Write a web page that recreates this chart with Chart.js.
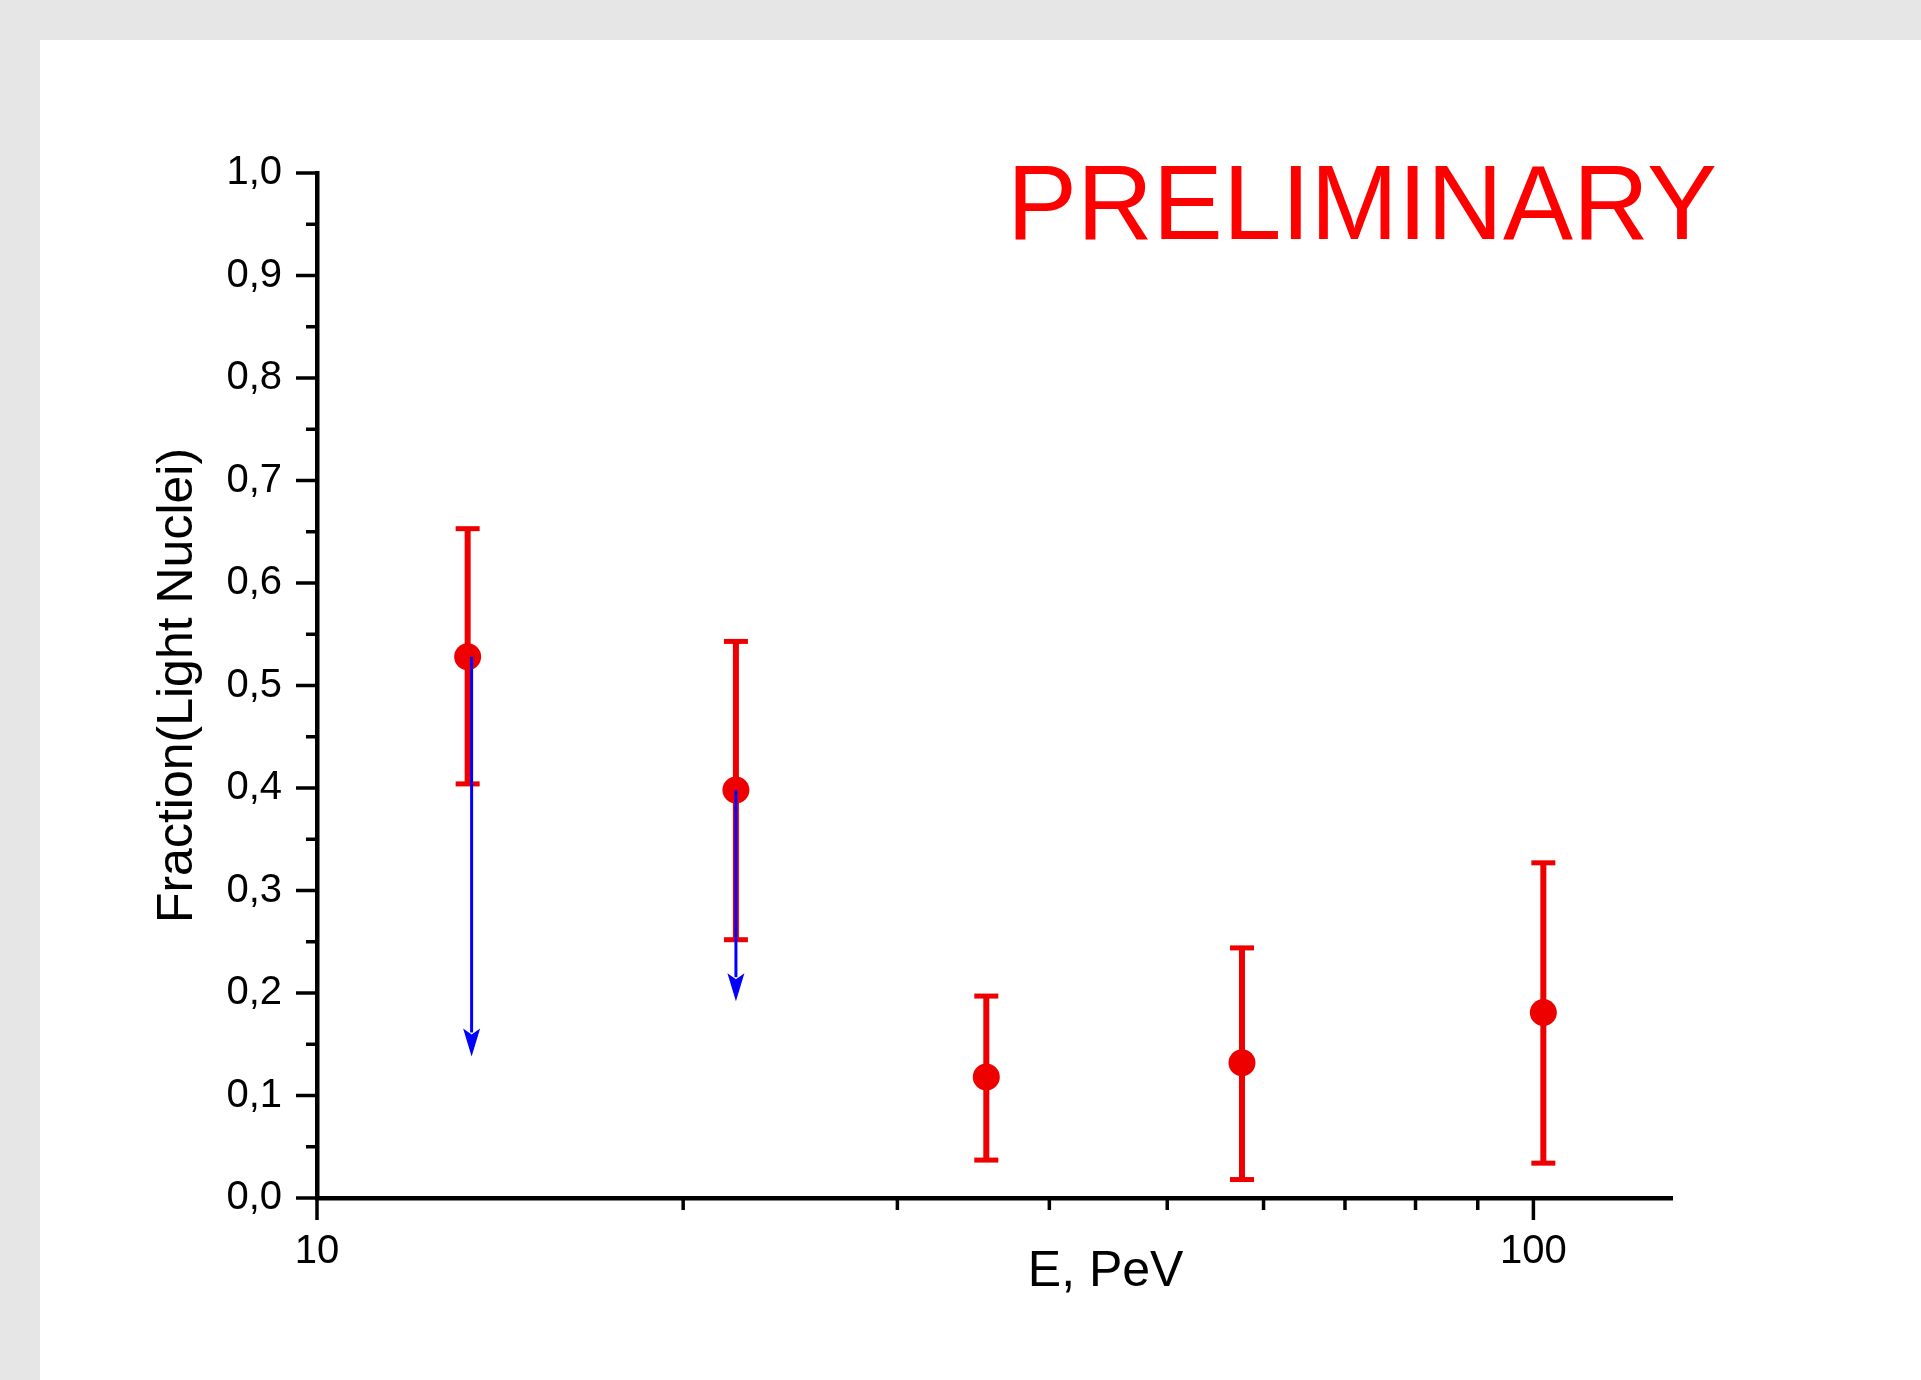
<!DOCTYPE html>
<html>
<head>
<meta charset="utf-8">
<script src="https://cdn.jsdelivr.net/npm/chart.js@4"></script>
<style>
  html, body { margin: 0; padding: 0; background: #e6e6e6; }
  #panel { position: absolute; left: 40px; top: 40px; width: 1881px; height: 1340px; background: #fff; }
</style>
</head>
<body>
<div id="panel"><canvas id="fractionChart" width="1881" height="1340"></canvas></div>
<script>
// ── Fraction of light nuclei vs energy (log x) ────────────────────────────────
// Red: measured points with error bars. Blue: upper-limit arrows.

const energy   = [13.3, 22.1, 35.5, 57.6, 101.9];        // E, PeV
const fraction = [0.528, 0.398, 0.118, 0.132, 0.181];
const errLow   = [0.404, 0.252, 0.037, 0.018, 0.034];
const errHigh  = [0.653, 0.543, 0.197, 0.244, 0.327];

// upper-limit arrows
const limitEnergy = [13.4, 22.1];
const limitFrom   = [0.528, 0.398];
const limitTo     = [0.138, 0.192];

const xMajorTicks = [10, 100];
const xMinorTicks = [20, 30, 40, 50, 60, 70, 80, 90];
const yTicks      = [0, 0.1, 0.2, 0.3, 0.4, 0.5, 0.6, 0.7, 0.8, 0.9, 1.0];
const yTickLabels = ['0,0', '0,1', '0,2', '0,3', '0,4', '0,5', '0,6', '0,7', '0,8', '0,9', '1,0'];

const RED  = '#ee0000';
const BLUE = '#0000ff';
const FONT = '"Liberation Sans", Arial, Helvetica, sans-serif';

Chart.defaults.font.family = FONT;
Chart.defaults.color = '#000';

// error bars, drawn under the dots
const errorBars = {
  id: 'errorBars',
  beforeDatasetsDraw(chart) {
    const { ctx, scales: { x, y } } = chart;
    ctx.save();
    ctx.strokeStyle = RED;
    energy.forEach((e, i) => {
      const px = x.getPixelForValue(e);
      const lo = y.getPixelForValue(errLow[i]);
      const hi = y.getPixelForValue(errHigh[i]);
      ctx.lineWidth = 6;
      ctx.beginPath(); ctx.moveTo(px, lo); ctx.lineTo(px, hi); ctx.stroke();
      ctx.lineWidth = 5;
      [lo, hi].forEach(py => {
        ctx.beginPath(); ctx.moveTo(px - 12, py); ctx.lineTo(px + 12, py); ctx.stroke();
      });
    });
    ctx.restore();
  },
};

// blue arrows on top of the dots
const limitArrows = {
  id: 'limitArrows',
  afterDatasetsDraw(chart) {
    const { ctx, scales: { x, y } } = chart;
    ctx.save();
    ctx.strokeStyle = BLUE;
    ctx.fillStyle = BLUE;
    ctx.lineWidth = 3;
    limitEnergy.forEach((e, i) => {
      const px  = x.getPixelForValue(e);
      const y0  = y.getPixelForValue(limitFrom[i]);
      const tip = y.getPixelForValue(limitTo[i]);
      const head = 28;
      ctx.beginPath(); ctx.moveTo(px, y0); ctx.lineTo(px, tip - head + 4); ctx.stroke();
      ctx.beginPath();
      ctx.moveTo(px, tip);
      ctx.lineTo(px - 8.5, tip - head);
      ctx.lineTo(px, tip - head + 6);
      ctx.lineTo(px + 8.5, tip - head);
      ctx.closePath();
      ctx.fill();
    });
    ctx.restore();
  },
};

// outward major / minor tick marks on both axes
const axisTicks = {
  id: 'axisTicks',
  afterDraw(chart) {
    const { ctx, chartArea: a, scales: { x, y } } = chart;
    ctx.save();
    ctx.strokeStyle = '#000';
    ctx.lineWidth = 3.5;
    const tick = (x1, y1, x2, y2) => { ctx.beginPath(); ctx.moveTo(x1, y1); ctx.lineTo(x2, y2); ctx.stroke(); };
    yTicks.forEach((v, i) => {
      const py = y.getPixelForValue(v);
      tick(a.left - 21, py, a.left, py);
      if (i < yTicks.length - 1) {
        const pm = y.getPixelForValue((v + yTicks[i + 1]) / 2);
        tick(a.left - 11, pm, a.left, pm);
      }
    });
    xMajorTicks.forEach(v => { const px = x.getPixelForValue(v); tick(px, a.bottom, px, a.bottom + 22); });
    xMinorTicks.forEach(v => { const px = x.getPixelForValue(v); tick(px, a.bottom, px, a.bottom + 12); });
    ctx.restore();
  },
};

// x title (off-centre in the original) and the PRELIMINARY stamp
const annotations = {
  id: 'annotations',
  afterDraw(chart) {
    const { ctx, chartArea: a } = chart;
    ctx.save();
    ctx.textBaseline = 'alphabetic';
    ctx.fillStyle = '#000';
    ctx.textAlign = 'center';
    ctx.font = `50px ${FONT}`;
    ctx.fillText('E, PeV', a.left + 0.582 * (a.right - a.left), 1246);
    ctx.fillStyle = '#ff0000';
    ctx.textAlign = 'left';
    ctx.font = `105px ${FONT}`;
    ctx.fillText('PRELIMINARY', 967, 199);
    ctx.restore();
  },
};

new Chart(document.getElementById('fractionChart'), {
  type: 'scatter',
  data: {
    datasets: [{
      label: 'Fraction',
      data: energy.map((e, i) => ({ x: e, y: fraction[i] })),
      pointRadius: 13.5,
      pointHoverRadius: 13.5,
      pointBackgroundColor: RED,
      pointBorderWidth: 0,
    }],
  },
  options: {
    responsive: false,
    animation: false,
    events: [],
    layout: { padding: { left: 0, top: 133, right: 249, bottom: 0 } },
    plugins: {
      legend:  { display: false },
      tooltip: { enabled: false },
    },
    scales: {
      x: {
        type: 'logarithmic',
        min: 10,
        max: 130,
        afterBuildTicks: s => { s.ticks = xMajorTicks.concat(xMinorTicks).map(v => ({ value: v })); },
        afterFit: s => { s.height = 182; },
        grid:   { display: false, drawTicks: false },
        border: { display: true, color: '#000', width: 4.5 },
        ticks: {
          autoSkip: false,
          maxRotation: 0,
          padding: 30,
          font: { size: 40 },
          color: '#000',
          callback: v => (xMajorTicks.includes(v) ? String(v) : ''),
        },
      },
      y: {
        min: 0,
        max: 1,
        afterBuildTicks: s => { s.ticks = yTicks.map(v => ({ value: v })); },
        afterFit: s => { s.width = 277; },
        grid:   { display: false, drawTicks: false },
        border: { display: true, color: '#000', width: 4.5 },
        ticks: {
          autoSkip: false,
          padding: 35,
          font: { size: 40 },
          color: '#000',
          callback: (v, i) => yTickLabels[i],
        },
        title: {
          display: true,
          text: 'Fraction(Light Nuclei)',
          font: { size: 50 },
          color: '#000',
          padding: { top: 108, bottom: 0 },
        },
      },
    },
  },
  plugins: [errorBars, limitArrows, axisTicks, annotations],
});
</script>
</body>
</html>
